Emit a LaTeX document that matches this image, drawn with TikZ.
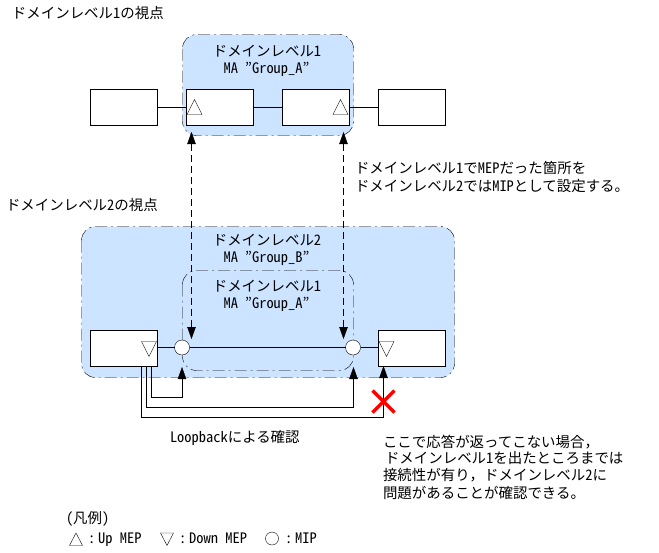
\documentclass[tikz,border=0pt]{standalone}
\usepackage{fontspec}
\setmainfont{Noto Sans CJK JP}[RawFeature=+hwid]
\newfontfamily\fw{Noto Sans CJK JP}
\usetikzlibrary{arrows.meta}
\definecolor{domblue}{RGB}{204,228,255}
\tikzset{
  x=1pt,y=-1pt,
  line width=1pt,
  every node/.style={inner sep=0pt,outer sep=0pt},
  txt/.style={anchor=west,font=\fontsize{14.45}{16}\selectfont,text height=12.5pt,text depth=1.7pt},
  ctxt/.style={anchor=center,font=\fontsize{14.45}{16}\selectfont,text height=12.5pt,text depth=1.7pt},
  port/.style={draw=black,fill=white,minimum width=67pt,minimum height=36pt},
  mip/.style={draw=black,fill=white,circle,minimum size=15pt},
  dom/.style={rounded corners=14pt,dash pattern=on 12pt off 4pt on 2pt off 4pt},
  tip/.style={-{Triangle[length=12pt,width=8.5pt]}},
  dtip/.style={{Triangle[length=12pt,width=8.5pt]}-{Triangle[length=12pt,width=8.5pt]},dash pattern=on 7pt off 4pt},
  tri/.style={draw=black,fill=white},
  cross/.style={draw=red,line width=3.2pt},
  link/.style={line width=1pt},
  mainlink/.style={line width=1.4pt},
}
\begin{document}
\begin{tikzpicture}
\useasboundingbox (0,0) rectangle (659,552);
% domain regions
\draw[dom,fill=domblue] (182.5,34.5) rectangle (353.5,135.5);
\draw[dom,fill=domblue] (81.5,226.5) rectangle (454.5,377.5);
\draw[dom] (182.5,270.5) rectangle (353.5,370.5);
% top row
\node[port] (ta) at (123.5,107) {};
\node[port] (tb) at (219.5,107) {};
\node[port] (tc) at (315.5,107) {};
\node[port] (td) at (411.5,107) {};
\draw[link] ([yshift=-0.5pt]ta.east) -- ([yshift=-0.5pt]tb.west);
\draw[link] ([yshift=-0.5pt]tb.east) -- ([yshift=-0.5pt]tc.west);
\draw[link] ([yshift=-0.5pt]tc.east) -- ([yshift=-0.5pt]td.west);
\draw[tri] (187,114.5) -- (202,114.5) -- (194.5,99.5) -- cycle;
\draw[tri] (333,114.5) -- (348,114.5) -- (340.5,99.5) -- cycle;
% bottom row
\node[port] (ba) at (123.5,348) {};
\node[port] (bd) at (411.5,348) {};
\node[mip] (ca) at (182,347.5) {};
\node[mip] (cb) at (353,347.5) {};
\draw[link] ([yshift=0.5pt]ba.east) -- (ca);
\draw[mainlink] (ca) -- (cb);
\draw[link] (cb) -- ([yshift=0.5pt]bd.west);
\draw[tri] (141.5,341.5) -- (156.5,341.5) -- (149,356.5) -- cycle;
\draw[tri] (379,341.5) -- (394,341.5) -- (386.5,356.5) -- cycle;
% dashed MEP/MIP links
\coordinate (u1) at (191.5,132);
\coordinate (d1) at (191.5,339);
\coordinate (u2) at (343.5,132);
\coordinate (d2) at (343.5,339);
\draw[dtip] (u1) -- (d1);
\draw[dtip] (u2) -- (d2);
% loopback
\coordinate (s1) at (151.5,366);
\coordinate (s2) at (146.5,366);
\coordinate (s3) at (141.5,366);
\coordinate (e1) at (182,367);
\coordinate (e2) at (353.5,367);
\coordinate (e3) at (383.5,366);
\draw[tip] (s1) -- (151.5,397.5) -| (e1);
\draw[tip] (s2) -- (146.5,407.5) -| (e2);
\draw[tip] (s3) -- (141.5,417.5) -| (e3);
% red cross
\draw[cross] (372.5,390.5) -- (394.5,412.5);
\draw[cross] (394.5,390.5) -- (372.5,412.5);
% labels
\node[txt] (l1) at (12,13) {ドメインレベル1の視点};
\node[txt] (l2) at (6,205) {ドメインレベル2の視点};
\node[ctxt] (n1) at (267,51) {ドメインレベル1};
\node[ctxt] (n2) at (266.5,68) {MA "Group\_A"};
\node[ctxt] (n3) at (267,240) {ドメインレベル2};
\node[ctxt] (n4) at (266.5,257) {MA "Group\_B"};
\node[ctxt] (n5) at (267,286) {ドメインレベル1};
\node[ctxt] (n6) at (266.5,303) {MA "Group\_A"};
\node[txt] (r1) at (355,168) {ドメインレベル1でMEPだった箇所を};
\node[txt] (r2) at (355,186) {ドメインレベル2ではMIPとして設定する。};
\node[txt] (lb) at (170,437) {Loopbackによる確認};
\node[txt] (p1) at (383,442) {ここで応答が返ってこない場合{\fw ，}};
\node[txt] (p2) at (385,458) {ドメインレベル1を出たところまでは};
\node[txt] (p3) at (383,475) {接続性が有り{\fw ，}ドメインレベル2に};
\node[txt] (p4) at (383,493) {問題があることが確認できる。};
% legend
\node[txt] (g0) at (66,518) {(凡例)};
\draw[tri] (69.5,545.5) -- (82.5,545.5) -- (76,533) -- cycle;
\node[txt] (g1) at (88,538) {:\hspace{3pt}Up MEP};
\draw[tri] (160.5,533) -- (173.5,533) -- (167,545.5) -- cycle;
\node[txt] (g2) at (179,538) {:\hspace{3pt}Down MEP};
\draw[tri] (272,538.5) circle (6.5);
\node[txt] (g3) at (285,538) {:\hspace{3pt}MIP};
\end{tikzpicture}
\end{document}
